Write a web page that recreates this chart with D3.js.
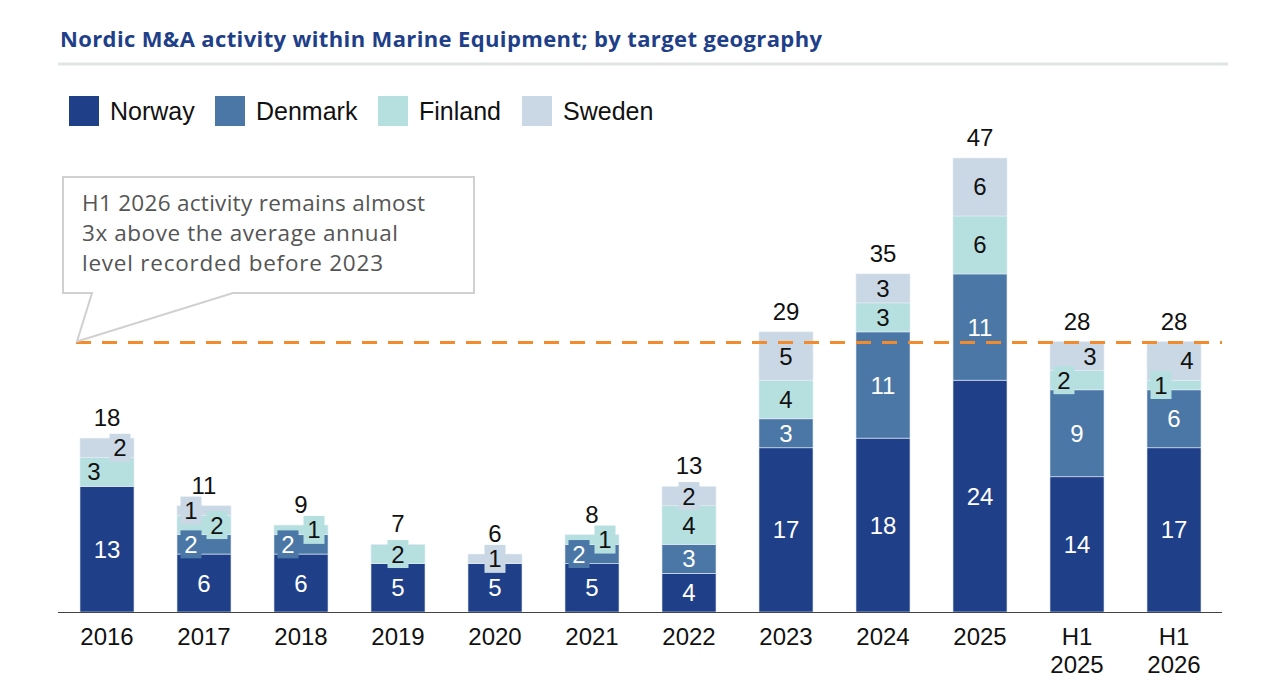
<!DOCTYPE html>
<html>
<head>
<meta charset="utf-8">
<script src="https://cdn.jsdelivr.net/npm/d3@7"></script>
<style>
  body { margin: 0; background: #fff; }
  svg { display: block; }
</style>
</head>
<body>
<div id="chart"></div>
<script>
// data
const periods = ["2016", "2017", "2018", "2019", "2020", "2021", "2022", "2023", "2024", "2025", "H1 2025", "H1 2026"];
const countries = ["Norway", "Denmark", "Finland", "Sweden"];
const norway  = [13, 6, 6, 5, 5, 5, 4, 17, 18, 24, 14, 17];
const denmark = [0, 2, 2, 0, 0, 2, 3, 3, 11, 11, 9, 6];
const finland = [3, 2, 1, 2, 0, 1, 4, 4, 3, 6, 2, 1];
const sweden  = [2, 1, 0, 0, 1, 0, 2, 5, 3, 6, 3, 4];
const referenceLevel = 28;
const calloutLines = ["H1 2026 activity remains almost", "3x above the average annual", "level recorded before 2023"];

// where the small labels sit in the bar: -1 left, 0 centre, 1 right
const labelSide = {
  "2016": [0, 0, -1, 1],
  "2017": [0, -1, 1, -1],
  "2018": [0, -1, 1, 0],
  "2021": [0, -1, 1, 0],
  "H1 2025": [0, 0, -1, 1],
  "H1 2026": [0, 0, -1, 1]
};

const colors = ["#1f3f89", "#4a77a5", "#b6dfe0", "#cad7e5"];
const textColors = ["#fff", "#fff", "#111", "#111"];
const numFont = "Liberation Sans, Arial, sans-serif";
const textFont = "'Open Sans', Lato, sans-serif";

const width = 1280, height = 689;
const svg = d3.select("#chart").append("svg")
  .attr("width", width).attr("height", height);

const rows = periods.map((p, i) => ({
  period: p,
  Norway: norway[i], Denmark: denmark[i], Finland: finland[i], Sweden: sweden[i]
}));

const x = d3.scaleBand().domain(periods).range([58.5, 1222.5]).paddingInner(0.443).paddingOuter(0.2215);
const y = d3.scaleLinear().domain([0, 47]).range([612, 158]);

const stack = d3.stack().keys(countries)(rows);

// title
svg.append("text")
  .attr("x", 60).attr("y", 47)
  .attr("font-family", textFont)
  .attr("font-weight", 700)
  .attr("font-size", 22)
  .attr("textLength", 762).attr("lengthAdjust", "spacing")
  .attr("fill", "#1f3f89")
  .text("Nordic M&A activity within Marine Equipment; by target geography");

svg.append("line")
  .attr("x1", 58).attr("x2", 1228).attr("y1", 64).attr("y2", 64)
  .attr("stroke", "#e1e4e4").attr("stroke-width", 3);

// legend
const legendX = [69, 215, 378, 522];
const legend = svg.append("g");
countries.forEach((c, i) => {
  legend.append("rect")
    .attr("x", legendX[i]).attr("y", 96).attr("width", 30).attr("height", 30)
    .attr("fill", colors[i]);
  legend.append("text")
    .attr("x", legendX[i] + 41).attr("y", 120)
    .attr("font-family", numFont)
    .attr("font-size", 25).attr("fill", "#111")
    .text(c);
});

// bars
const barG = svg.append("g");
stack.forEach((layer, si) => {
  barG.selectAll(null)
    .data(layer.filter(d => d[1] > d[0]))
    .enter().append("rect")
    .attr("x", d => x(d.data.period))
    .attr("width", x.bandwidth())
    .attr("y", d => y(d[1]))
    .attr("height", d => y(d[0]) - y(d[1]))
    .attr("fill", colors[si])
    .attr("stroke", "#e6edf5")
    .attr("stroke-width", 0.6);
});

// axis line
svg.append("line")
  .attr("x1", 58).attr("x2", 1222).attr("y1", 612.5).attr("y2", 612.5)
  .attr("stroke", "#444").attr("stroke-width", 1.2);

// x labels
const xl = svg.append("g")
  .attr("font-family", numFont)
  .attr("font-size", 24).attr("fill", "#111").attr("text-anchor", "middle");
periods.forEach(p => {
  const parts = p.split(" ");
  const t = xl.append("text").attr("x", x(p) + x.bandwidth() / 2).attr("y", 645);
  parts.forEach((s, k) => {
    t.append("tspan").attr("x", x(p) + x.bandwidth() / 2).attr("dy", k === 0 ? 0 : 28).text(s);
  });
});

// segment labels
const labels = [];
stack.forEach((layer, si) => {
  layer.forEach(d => {
    const v = d[1] - d[0];
    if (v <= 0) return;
    const side = (labelSide[d.data.period] || [0, 0, 0, 0])[si];
    labels.push({
      cx: x(d.data.period) + x.bandwidth() / 2 + side * 13,
      cy: (y(d[0]) + y(d[1])) / 2,
      v, si
    });
  });
});

const lg = svg.append("g");
lg.selectAll("rect").data(labels.filter(l => l.v <= 2)).enter().append("rect")
  .attr("x", l => l.cx - 10.5).attr("y", l => l.cy - 14)
  .attr("width", 21).attr("height", 28)
  .attr("fill", l => colors[l.si]);
lg.selectAll("text").data(labels).enter().append("text")
  .attr("x", l => l.cx).attr("y", l => l.cy + 8.5)
  .attr("text-anchor", "middle")
  .attr("font-family", numFont)
  .attr("font-size", 24)
  .attr("fill", l => textColors[l.si])
  .text(l => l.v);

// totals
svg.append("g").selectAll("text").data(rows).enter().append("text")
  .attr("x", d => x(d.period) + x.bandwidth() / 2)
  .attr("y", d => y(d.Norway + d.Denmark + d.Finland + d.Sweden) - 12)
  .attr("text-anchor", "middle")
  .attr("font-family", numFont)
  .attr("font-size", 24).attr("fill", "#111")
  .text(d => d.Norway + d.Denmark + d.Finland + d.Sweden);

// reference line
const refY = y(referenceLevel) + 1;
svg.append("line")
  .attr("x1", 76).attr("x2", 1222).attr("y1", refY).attr("y2", refY)
  .attr("stroke", "#f28a2e").attr("stroke-width", 3)
  .attr("stroke-dasharray", "15 11");

// callout
const bx = 63, by = 177, bw = 411, bh = 116;
const lineWidths = [343, 316, 301];
svg.append("path")
  .attr("d", `M${bx},${by} H${bx + bw} V${by + bh} H233 L77,${refY - 1} L92,${by + bh} H${bx} Z`)
  .attr("fill", "#fff").attr("stroke", "#d0d0d0").attr("stroke-width", 2);
svg.append("g").selectAll("text").data(calloutLines).enter().append("text")
  .attr("x", 82).attr("y", (d, i) => 211 + i * 30)
  .attr("font-family", textFont)
  .attr("font-size", 22.5).attr("fill", "#555")
  .attr("textLength", (d, i) => lineWidths[i]).attr("lengthAdjust", "spacing")
  .text(d => d);
</script>
</body>
</html>
